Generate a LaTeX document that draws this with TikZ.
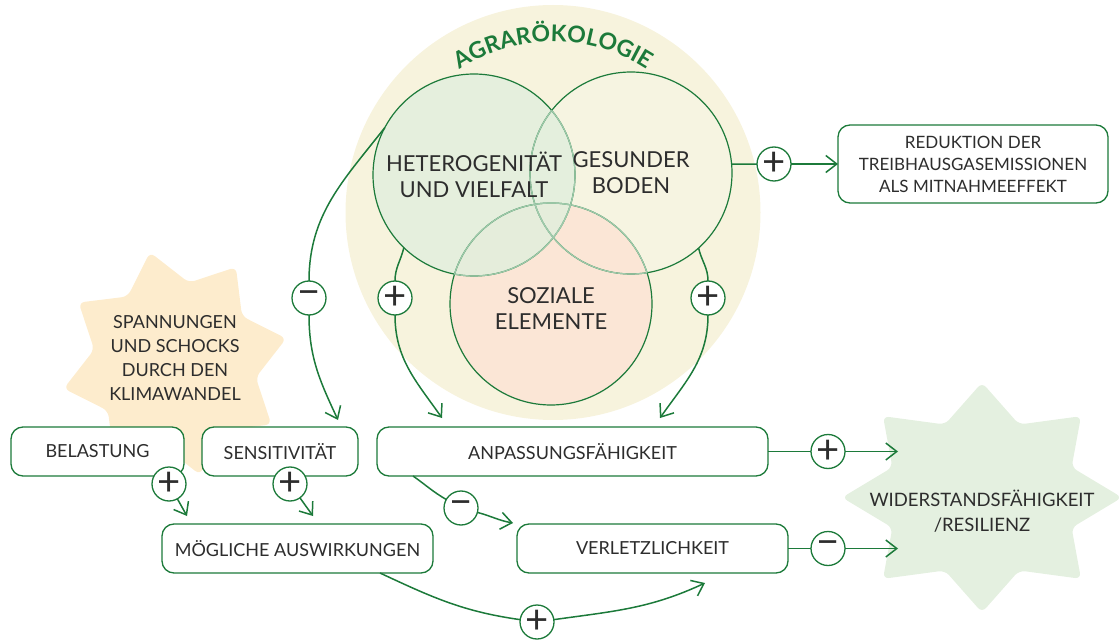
\documentclass[tikz,border=0pt]{standalone}
\usepackage{fontspec}
\setmainfont{Lato}
\newfontfamily\signfam{Lato}
\usetikzlibrary{arrows.meta,decorations.text}

\definecolor{agreen}{RGB}{28,122,58}
\definecolor{alight}{RGB}{160,202,172}
\definecolor{tdark}{RGB}{45,45,45}
\definecolor{bgcream}{RGB}{247,243,221}
\definecolor{hetfill}{RGB}{226,239,221}
\definecolor{bodenfill}{RGB}{246,244,225}
\definecolor{sozfill}{RGB}{251,230,214}
\definecolor{spannfill}{RGB}{253,236,205}
\definecolor{resilfill}{RGB}{228,240,224}

\newcommand\boxfont{\fontsize{18}{22}\selectfont}
\newcommand\ringfont{\fontsize{22}{26}\selectfont}
\newcommand\smallfont{\fontsize{17}{22}\selectfont}
\newcommand\starfont{\fontsize{18}{24}\selectfont}
\newcommand\resilfont{\fontsize{18.5}{25}\selectfont}
\newcommand\signfont{\signfam\fontsize{40}{40}\selectfont}
\newcommand\agrfont{\fontsize{23}{23}\selectfont\bfseries}

\begin{document}
\begin{tikzpicture}[x=1pt, y=1pt,
    box/.style={draw=agreen, line width=1.3pt, fill=white, rounded corners=12pt, minimum height=49pt, inner sep=0pt, outer sep=0pt, align=center, text=tdark, font=\boxfont},
    sign/.style={circle, draw=agreen, line width=1.3pt, fill=white, minimum size=34pt, inner sep=0pt, outer sep=0pt, text=tdark, font=\signfont},
    ringtext/.style={circle, minimum size=202pt, inner sep=0pt, outer sep=0pt, align=center, text=tdark, font=\ringfont},
    ringline/.style={draw=agreen, line width=1.2pt},
    ringlight/.style={draw=alight, line width=1.2pt},
    link/.style={draw=agreen, line width=1.5pt},
    flow/.style={link, -{Straight Barb[length=11pt, width=17pt]}}]
    \useasboundingbox (0, 0) rectangle (1119, 641);

    \fill[bgcream] (553, 428.5) circle (207.5);
    \path[decorate, decoration={text along path, text align=center, text color=agreen, text={|\agrfont|AGRARÖKOLOGIE}}] (553, 428.5) ++(122:171) arc[start angle=122, end angle=58, radius=171];

    \fill[spannfill, rounded corners=6pt, shift={(175, 277.5)}] (12.7:114)
        \foreach \a in {0,45,...,270} {-- (\a+35.2:82) -- (\a+57.7:114)} -- (350.2:82) -- cycle;
    \fill[resilfill, rounded corners=6pt, shift={(982, 143.5)}] (90:140 and 115)
        \foreach \a in {0,45,...,270} {-- (\a+112.5:97 and 79) -- (\a+135:140 and 115)} -- (67.5:97 and 79) -- cycle;

    \fill[bodenfill] (631, 468) circle (101);
    \fill[sozfill] (551, 337) circle (101);
    \fill[hetfill, fill opacity=0.85] (474, 466) circle (101);
    \draw[ringline] (631, 468) circle (101);
    \draw[ringline] (551, 337) circle (101);
    \draw[ringline] (474, 466) circle (101);
    \begin{scope}
        \clip (631, 468) circle (101);
        \draw[ringlight] (474, 466) circle (101) (551, 337) circle (101);
    \end{scope}
    \begin{scope}
        \clip (474, 466) circle (101);
        \draw[ringlight] (631, 468) circle (101) (551, 337) circle (101);
    \end{scope}
    \begin{scope}
        \clip (551, 337) circle (101);
        \draw[ringlight] (474, 466) circle (101) (631, 468) circle (101);
    \end{scope}

    \node[ringtext] (het) at (474, 466) {HETEROGENITÄT\\UND VIELFALT};
    \node[ringtext] (boden) at (631, 468) {GESUNDER\\BODEN};
    \node[ringtext] (sozial) at (551, 332) {SOZIALE\\ELEMENTE};

    \node[text=tdark, align=center, font=\starfont] (spann) at (175, 283.5) {SPANNUNGEN\\UND SCHOCKS\\DURCH DEN\\KLIMAWANDEL};
    \node[text=tdark, align=center, font=\resilfont] (resil) at (982, 130) {WIDERSTANDSFÄHIGKEIT\\/RESILIENZ};

    \node[box, minimum width=270pt, minimum height=78pt, font=\smallfont] (reduktion) at (973, 477) {REDUKTION DER\\TREIBHAUSGASEMISSIONEN\\ALS MITNAHMEEFFEKT};
    \node[box, minimum width=173pt] (belastung) at (97.5, 189.5) {BELASTUNG};
    \node[box, minimum width=156pt] (sensitiv) at (280, 189.5) {SENSITIVITÄT};
    \node[box, minimum width=391pt] (anpassung) at (572.5, 189.5) {ANPASSUNGSFÄHIGKEIT};
    \node[box, minimum width=271pt] (moeglich) at (297.5, 92.5) {MÖGLICHE AUSWIRKUNGEN};
    \node[box, minimum width=271pt] (verletz) at (652.5, 92.5) {VERLETZLICHKEIT};

    \node[sign] (s1) at (774, 477) {+};
    \node[sign] (s2) at (309, 343) {−};
    \node[sign] (s3) at (395, 343) {+};
    \node[sign] (s4) at (708, 343) {+};
    \node[sign] (s5) at (169, 157) {+};
    \node[sign] (s6) at (290, 157) {+};
    \node[sign] (s7) at (461, 133) {−};
    \node[sign] (s8) at (537, 19) {+};
    \node[sign] (s9) at (828, 189.5) {+};
    \node[sign] (s10) at (828, 92.5) {−};
    \coordinate (r1) at (898, 189.5);
    \coordinate (r2) at (898, 92.5);

    \draw[link] (boden.5) -- (s1);
    \draw[flow] (s1) -- (reduktion);
    \draw[link] (het.152) to[out=232, in=90] (s2);
    \draw[flow] (s2) to[out=-90, in=115] ([xshift=-20pt, yshift=7pt]sensitiv.north east);
    \draw[link] (het.226) to[out=257, in=90] (s3);
    \draw[flow] (s3) to[out=-90, in=125] ([xshift=65pt, yshift=9pt]anpassung.north west);
    \draw[link] (boden.312) to[out=283, in=90] (s4);
    \draw[flow] (s4) to[out=-90, in=55] ([xshift=-108pt, yshift=9pt]anpassung.north east);
    \draw[flow] (s5) -- ([xshift=25pt, yshift=8pt]moeglich.north west);
    \draw[flow] (s6) -- ([xshift=151pt, yshift=8pt]moeglich.north west);
    \draw[link] ([xshift=36pt]anpassung.south west) to[out=-35, in=150] (s7);
    \draw[flow] (s7) to[out=-15, in=170] ([xshift=-4pt, yshift=1pt]verletz.north west);
    \draw[link] ([xshift=218pt]moeglich.south west) to[out=-25, in=172] (s8);
    \draw[flow] (s8) to[out=8, in=205] ([xshift=-83pt, yshift=-10pt]verletz.south east);
    \draw[link] (anpassung) -- (s9);
    \draw[flow] (s9) -- (r1);
    \draw[link] (verletz) -- (s10);
    \draw[flow] (s10) -- (r2);
\end{tikzpicture}
\end{document}
